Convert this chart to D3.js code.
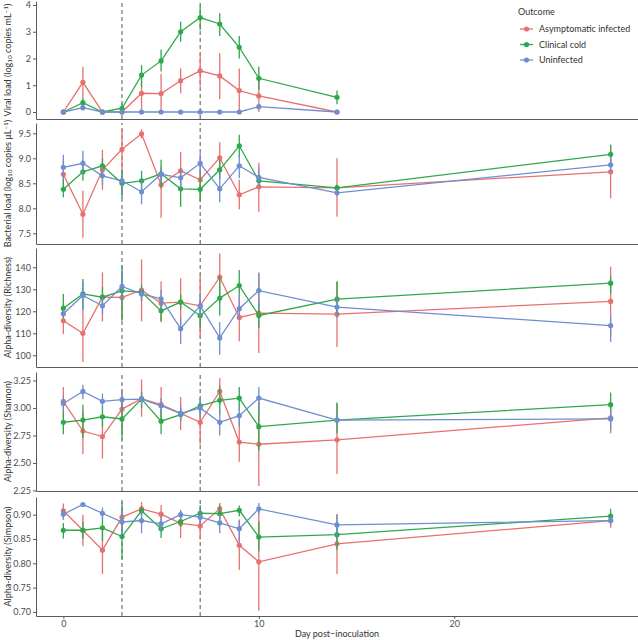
<!DOCTYPE html>
<html><head><meta charset="utf-8">
<script src="https://cdn.jsdelivr.net/npm/d3@7"></script>
<style>body{margin:0;background:#fff}svg{display:block}text{font-family:Lato,"Noto Sans",sans-serif}</style>
</head><body><svg id="c" width="638" height="640"></svg>
<script>
// ---------- data ----------
const seriesNames = ["Asymptomatic infected", "Clinical cold", "Uninfected"];
const daysViral = [0,1,2,3,4,5,6,7,8,9,10,14];
const daysOther = [0,1,2,3,4,5,6,7,8,9,10,14,28];
const dashDays = [3, 7];
const xTicks = [0, 10, 20];

// [mean, lower, upper]
const viralAsym = [[0,0,0],[1.11,0.55,1.69],[0,0,0],[0,0,0],[0.70,0,1.35],[0.69,0,1.43],[1.17,0.70,1.63],[1.54,0.95,2.19],[1.35,0.49,2.2],[0.80,0,1.63],[0.60,0,1.2],[0,0,0]];
const viralCold = [[0,0,0],[0.35,0.13,0.55],[0,0,0],[0.14,0,0.33],[1.38,0.92,1.75],[1.91,1.51,2.34],[3.0,2.63,3.38],[3.53,3.07,3.97],[3.29,2.84,3.69],[2.42,2.0,2.84],[1.26,0.82,1.69],[0.55,0.29,0.80]];
const viralUninf = [[0,0,0],[0.16,0.07,0.25],[0,0,0],[0,0,0],[0,0,0],[0,0,0],[0,0,0],[0,0,0],[0,0,0],[0,0,0],[0.20,0.15,0.25],[0,0,0]];

const bactAsym = [[8.68,8.40,8.95],[7.88,7.41,8.35],[8.77,8.37,9.17],[9.18,8.33,9.58],[9.49,9.40,9.58],[8.47,7.81,8.78],[8.75,8.37,9.13],[8.57,8.17,8.97],[9.01,8.67,9.32],[8.27,7.98,8.57],[8.43,7.93,8.91],[8.41,7.83,9.0],[8.73,8.2,9.27]];
const bactCold = [[8.38,8.22,8.6],[8.73,8.55,8.97],[8.85,8.71,9.0],[8.5,8.2,8.77],[8.55,8.35,8.75],[8.69,8.4,8.97],[8.39,8.03,8.67],[8.38,8.13,8.7],[8.77,8.57,8.97],[9.25,9.02,9.47],[8.55,8.45,8.65],[8.41,8.35,8.47],[9.08,8.9,9.27]];
const bactUninf = [[8.82,8.58,9.07],[8.9,8.67,9.15],[8.65,8.47,8.83],[8.55,8.37,8.7],[8.33,8.08,8.58],[8.68,8.5,8.83],[8.61,8.4,8.8],[8.9,8.7,9.1],[8.39,8.12,8.67],[8.85,8.6,9.07],[8.62,8.42,8.8],[8.31,8.25,8.37],[8.87,8.7,9.03]];

const richAsym = [[115.7,109.7,121.4],[110,97,122.2],[126.4,115.4,137.7],[126.3,115.7,136.5],[129.6,115.4,143.6],[123.7,115.7,133.5],[124.2,113.9,135],[122.5,108,136.5],[135.5,123.7,146.3],[117.2,106.4,127.5],[119.2,101.1,137.6],[118.7,103.8,133.5],[124.5,108.6,140.3]];
const richCold = [[121.4,117,127.9],[127.9,121.4,134.7],[126.4,121.4,131],[129.3,116.2,140.8],[128.7,125,132],[120.2,115.1,125.5],[124.2,120.8,127.5],[118,112.4,125.2],[126,118.1,135.8],[131.7,127.5,138.8],[118.1,112.4,124],[125.5,118.4,133.5],[132.8,128.2,135.8]];
const richUninf = [[118.9,117,120.7],[127.2,120.7,133.5],[122.5,118.4,126.4],[131.3,123.7,138.8],[127.9,124.5,131],[125.7,120.7,129.7],[112.1,105.2,116.9],[122.5,117,127.9],[107.9,100.3,115.1],[121.2,116.2,127.5],[129.4,121.4,137.3],[121.9,117,126.5],[113.5,106.1,117.7]];

const shanAsym = [[3.06,2.91,3.19],[2.79,2.58,2.97],[2.74,2.54,2.88],[2.99,2.77,3.17],[3.085,2.92,3.26],[3.03,2.88,3.19],[2.95,2.80,3.10],[2.87,2.67,3.06],[3.15,3.03,3.27],[2.69,2.51,2.94],[2.67,2.29,3.06],[2.71,2.40,3.04],[2.91,2.77,3.05]];
const shanCold = [[2.87,2.76,2.97],[2.89,2.73,3.03],[2.92,2.83,3.02],[2.90,2.71,3.09],[3.08,3.0,3.15],[2.88,2.76,2.99],[2.94,2.88,3.0],[3.02,2.94,3.09],[3.07,2.94,3.2],[3.09,2.98,3.19],[2.83,2.61,3.05],[2.89,2.77,3.05],[3.03,2.92,3.14]];
const shanUninf = [[3.04,2.97,3.11],[3.15,3.08,3.21],[3.06,2.98,3.13],[3.075,2.98,3.15],[3.08,3.02,3.14],[3.02,2.95,3.09],[2.95,2.88,3.03],[3.0,2.91,3.09],[2.87,2.75,2.98],[2.93,2.83,3.03],[3.09,2.98,3.19],[2.89,2.84,2.94],[2.90,2.80,2.98]];

const simpAsym = [[0.908,0.89,0.923],[0.868,0.835,0.9],[0.827,0.778,0.866],[0.895,0.869,0.914],[0.912,0.9,0.926],[0.901,0.881,0.92],[0.882,0.852,0.91],[0.877,0.849,0.903],[0.912,0.9,0.924],[0.837,0.787,0.888],[0.803,0.703,0.914],[0.84,0.778,0.901],[0.888,0.873,0.9]];
const simpCold = [[0.868,0.851,0.883],[0.868,0.85,0.886],[0.873,0.846,0.897],[0.855,0.808,0.926],[0.908,0.897,0.917],[0.871,0.852,0.883],[0.886,0.875,0.897],[0.903,0.886,0.92],[0.902,0.886,0.92],[0.909,0.897,0.919],[0.854,0.825,0.886],[0.859,0.828,0.886],[0.897,0.883,0.912]];
const simpUninf = [[0.901,0.89,0.914],[0.921,0.917,0.924],[0.903,0.89,0.915],[0.885,0.859,0.91],[0.888,0.862,0.907],[0.881,0.866,0.897],[0.90,0.89,0.908],[0.895,0.88,0.907],[0.883,0.862,0.901],[0.871,0.845,0.89],[0.912,0.901,0.924],[0.879,0.856,0.901],[0.888,0.878,0.897]];

// ---------- layout ----------
const colors = ["#E8716E", "#2FA84B", "#6E8FCF"];
const W = 638, H = 640, left = 36, right = 638;
const svg = d3.select("#c");
const x = d3.scaleLinear().domain([-1.4, 29.4]).range([left, right]);
const axisCol = "#5a5a5a", textCol = "#4d4d4d";

const panels = [
  {title: ["Viral load (log", "10", " copies mL", "−1", ")"], days: daysViral, data: [viralAsym, viralCold, viralUninf],
   range: [119, 1], domain: [-0.2617, 4.1495], ticks: [0,1,2,3,4], fmt: d3.format("d")},
  {title: ["Bacterial load (log", "10", " copies μL", "−1", ")"], days: daysOther, data: [bactAsym, bactCold, bactUninf],
   range: [244, 123], domain: [7.286, 9.706], ticks: [7.5,8,8.5,9,9.5], fmt: d3.format(".1f")},
  {title: ["Alpha-diversity (Richness)"], days: daysOther, data: [richAsym, richCold, richUninf],
   range: [367, 248], domain: [94.68, 148.77], ticks: [100,110,120,130,140], fmt: d3.format("d")},
  {title: ["Alpha-diversity (Shannon)"], days: daysOther, data: [shanAsym, shanCold, shanUninf],
   range: [491, 372], domain: [2.245, 3.327], ticks: [2.25,2.5,2.75,3,3.25], fmt: d3.format(".2f")},
  {title: ["Alpha-diversity (Simpson)"], days: daysOther, data: [simpAsym, simpCold, simpUninf],
   range: [616, 497], domain: [0.6916, 0.9364], ticks: [0.7,0.75,0.8,0.85,0.9], fmt: d3.format(".2f")}
];

panels.forEach((p, pi) => {
  const y = d3.scaleLinear().domain(p.domain).range(p.range);
  const g = svg.append("g");
  dashDays.forEach(d => {
    g.append("line").attr("x1", x(d)).attr("x2", x(d)).attr("y1", p.range[0]).attr("y2", p.range[1])
      .attr("stroke", "#555").attr("stroke-width", 1).attr("stroke-dasharray", "4,3");
  });
  const ya = g.append("g").attr("transform", `translate(${left},0)`)
    .call(d3.axisLeft(y).tickValues(p.ticks).tickFormat(p.fmt).tickSize(3).tickSizeOuter(0));
  ya.select(".domain").attr("stroke", axisCol);
  ya.selectAll(".tick line").attr("stroke", axisCol);
  ya.selectAll("text").attr("fill", textCol).style("font-size", "9px").attr("x", -5);
  const isLast = pi === panels.length - 1;
  const xa = g.append("g").attr("transform", `translate(0,${p.range[0]})`)
    .call(d3.axisBottom(x).tickValues(isLast ? xTicks : []).tickSize(3).tickSizeOuter(0));
  xa.select(".domain").attr("stroke", axisCol);
  xa.selectAll(".tick line").attr("stroke", axisCol);
  xa.selectAll("text").attr("fill", textCol).style("font-size", "9px").attr("dy", "0.6em");
  const cy = (p.range[0] + p.range[1]) / 2;
  const t = g.append("text").attr("transform", `translate(11,${cy}) rotate(-90)`)
    .attr("text-anchor", "middle").attr("fill", "#333").style("font-size", "9px");
  p.title.forEach((s, i) => {
    const ts = t.append("tspan").text(s);
    if (i === 1 || i === 3) {
      ts.style("font-size", "6.5px").attr("baseline-shift", i === 1 ? "-20%" : "40%");
    }
  });
  p.data.forEach((ser, si) => {
    const pts = ser.map((v, i) => ({d: p.days[i], m: v[0], lo: v[1], hi: v[2]}));
    const sg = g.append("g");
    sg.selectAll("line.err").data(pts.filter(q => q.hi > q.lo)).enter().append("line")
      .attr("x1", q => x(q.d)).attr("x2", q => x(q.d))
      .attr("y1", q => y(q.lo)).attr("y2", q => y(q.hi))
      .attr("stroke", colors[si]).attr("stroke-width", 1.3);
    sg.append("path").datum(pts)
      .attr("d", d3.line().x(q => x(q.d)).y(q => y(q.m)))
      .attr("fill", "none").attr("stroke", colors[si]).attr("stroke-width", 1.3);
    sg.selectAll("circle").data(pts).enter().append("circle")
      .attr("cx", q => x(q.d)).attr("cy", q => y(q.m)).attr("r", 2.6).attr("fill", colors[si]);
  });
});

svg.append("text").attr("x", (left + right) / 2).attr("y", 637).attr("text-anchor", "middle")
  .attr("fill", "#333").style("font-size", "9px").text("Day post\u2212inoculation");

const lg = svg.append("g");
lg.append("text").attr("x", 518).attr("y", 15).attr("fill", "#333").style("font-size", "9px").text("Outcome");
seriesNames.forEach((n, i) => {
  const yy = 29 + i * 15.5;
  lg.append("line").attr("x1", 520).attr("x2", 533).attr("y1", yy).attr("y2", yy)
    .attr("stroke", colors[i]).attr("stroke-width", 1.3);
  lg.append("circle").attr("cx", 526.5).attr("cy", yy).attr("r", 2.6).attr("fill", colors[i]);
  lg.append("text").attr("x", 539).attr("y", yy).attr("dy", "0.35em").attr("fill", "#333")
    .style("font-size", "9px").text(n);
});
</script></body></html>
